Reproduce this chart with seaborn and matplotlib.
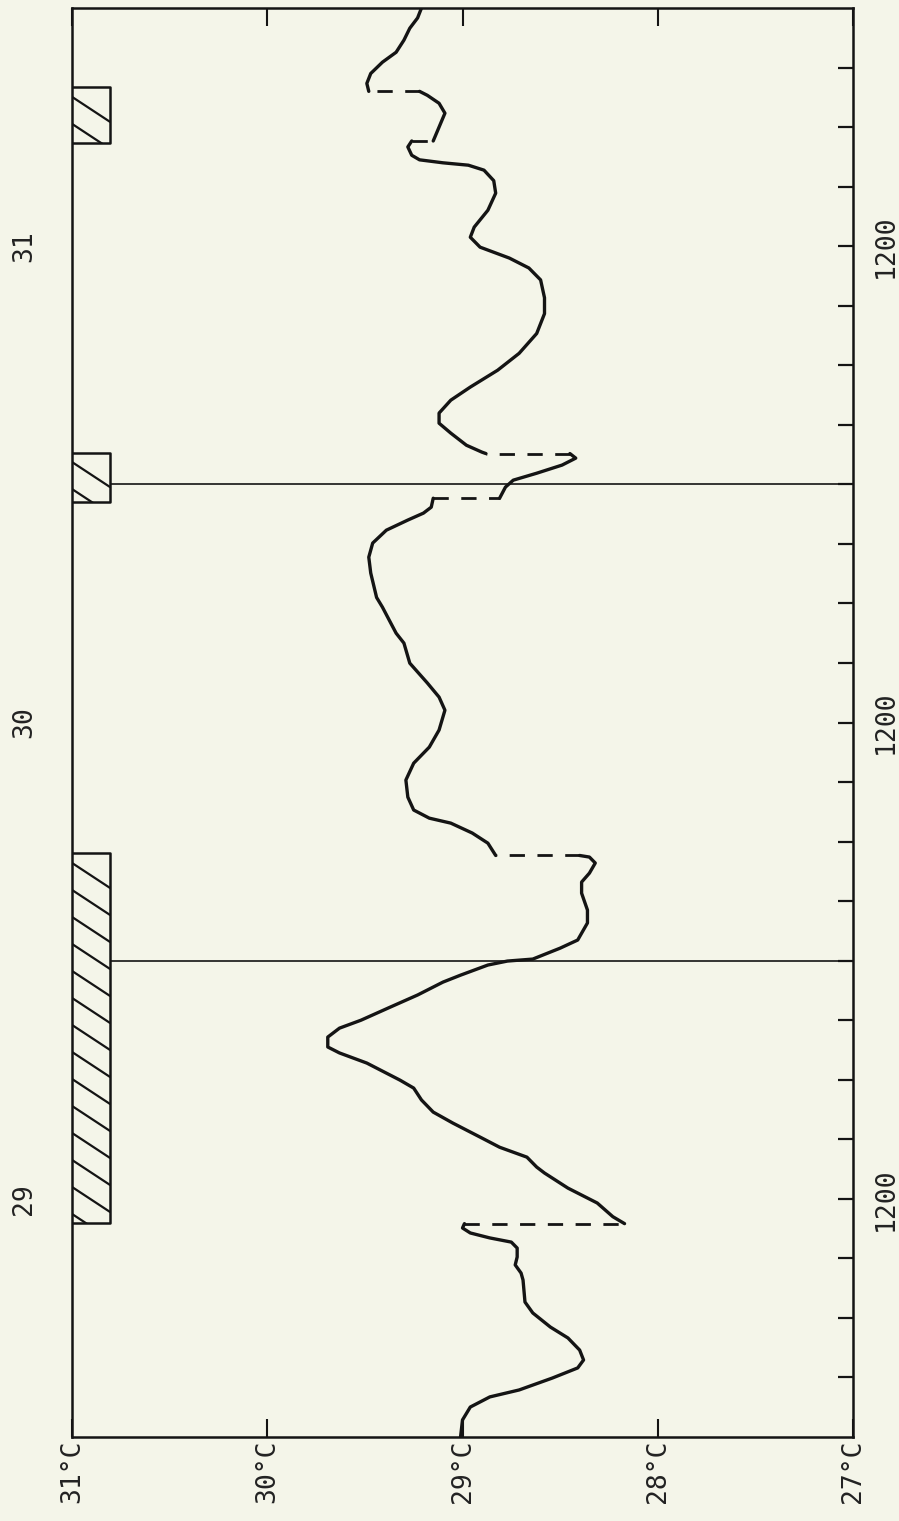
import numpy as np
import pandas as pd
import matplotlib
matplotlib.use("Agg")
import matplotlib.pyplot as plt
import matplotlib.transforms as mtransforms
from matplotlib.patches import Rectangle
import seaborn as sns

# ---------------- data ----------------
temp_ticks = [31, 30, 29, 28, 27]
temp_labels = ["31°C", "30°C", "29°C", "28°C", "27°C"]
day_labels = ["29", "30", "31"]
noon_hours = [12, 36, 60]
noon_label = "1200"
hour_ticks = list(range(3, 72, 3))
midnight_hours = [24, 48]
rain_start = [10.8, 47.1, 65.2]
rain_end = [29.4, 49.6, 68.0]

seg1_h = [0.0, 0.86, 1.51, 2.02, 2.37, 2.97, 3.48, 3.88, 4.38, 4.99, 5.54, 6.25, 6.80,
          7.91, 8.26, 8.67, 9.07, 9.52, 9.82, 10.03, 10.28, 10.53, 10.75]
seg1_t = [29.01, 29.00, 28.96, 28.86, 28.71, 28.54, 28.41, 28.38, 28.40, 28.46, 28.55, 28.64, 28.68,
          28.69, 28.70, 28.73, 28.72, 28.72, 28.75, 28.86, 28.96, 29.00, 28.99]

seg2_h = [10.75, 11.1, 11.79, 12.54, 13.30, 13.6, 14.1, 14.6, 15.06, 15.82, 16.37, 16.98, 17.58,
          17.98, 18.84, 19.35, 19.65, 20.15, 20.6, 21.0, 21.66, 22.27, 22.92, 23.27, 23.78,
          23.98, 24.08, 24.63, 25.04, 25.9, 26.55, 27.4, 27.96, 28.41, 28.92, 29.22, 29.3]
seg2_t = [28.17, 28.23, 28.31, 28.46, 28.58, 28.62, 28.67, 28.81, 28.90, 29.05, 29.15, 29.21, 29.25,
          29.32, 29.49, 29.63, 29.69, 29.69, 29.63, 29.52, 29.37, 29.23, 29.10, 29.01, 28.87,
          28.77, 28.64, 28.50, 28.41, 28.36, 28.36, 28.39, 28.39, 28.35, 28.32, 28.35, 28.40]

seg3_h = [29.3, 29.92, 30.43, 30.93, 31.18, 31.59, 32.24, 33.1, 33.95, 34.76, 35.62, 36.62, 37.28,
          37.99, 38.99, 40.0, 40.5, 41.06, 41.81, 42.3, 43.53, 44.33, 45.04, 45.69, 46.2, 46.55,
          46.85, 47.3]
seg3_t = [28.83, 28.87, 28.95, 29.06, 29.17, 29.25, 29.28, 29.29, 29.25, 29.17, 29.12, 29.09, 29.12,
          29.18, 29.27, 29.30, 29.34, 29.37, 29.41, 29.44, 29.47, 29.48, 29.46, 29.39, 29.28, 29.20,
          29.16, 29.15]

seg4_h = [47.3, 47.86, 48.21, 48.56, 48.97, 49.32, 49.55]
seg4_t = [28.81, 28.78, 28.74, 28.62, 28.49, 28.42, 28.45]

seg5_h = [49.55, 49.62, 49.97, 50.58, 51.08, 51.59, 52.24, 52.9, 53.75, 54.6, 55.6, 56.6, 57.4,
          58.3, 58.9, 59.4, 59.95, 60.45, 60.96, 61.81, 62.67, 63.3, 63.83, 64.08, 64.2, 64.35,
          64.58, 65.0, 65.3]
seg5_t = [28.88, 28.90, 28.98, 29.06, 29.12, 29.12, 29.06, 28.96, 28.82, 28.71, 28.62, 28.58, 28.58,
          28.60, 28.66, 28.76, 28.91, 28.96, 28.94, 28.87, 28.83, 28.84, 28.89, 28.97, 29.10, 29.22,
          29.26, 29.28, 29.26]

seg6_h = [65.3, 66.0, 66.7, 67.2, 67.6, 67.8]
seg6_t = [29.15, 29.12, 29.09, 29.12, 29.18, 29.22]

seg7_h = [67.8, 68.2, 68.7, 69.27, 69.77, 70.38, 70.98, 71.5, 72.0]
seg7_t = [29.48, 29.49, 29.47, 29.41, 29.34, 29.30, 29.27, 29.23, 29.21]

segments_h = [seg1_h, seg2_h, seg3_h, seg4_h, seg5_h, seg6_h, seg7_h]
segments_t = [seg1_t, seg2_t, seg3_t, seg4_t, seg5_t, seg6_t, seg7_t]

# ---------------- style ----------------
BG = "#f4f5e9"
INK = "#141414"
sns.set_style("white")
plt.rcParams["font.family"] = ["DejaVu Sans Mono", "DejaVu Sans"]

W, H, DPI = 899, 1521, 100
fig = plt.figure(figsize=(W / DPI, H / DPI), dpi=DPI, facecolor=BG)
ax_l, ax_r, ax_t, ax_b = 72, 853, 8, 1437
ax = fig.add_axes([ax_l / W, (H - ax_b) / H, (ax_r - ax_l) / W, (ax_b - ax_t) / H])
ax.set_facecolor(BG)

df = pd.concat(
    [pd.DataFrame({"temp": t, "hour": h, "seg": i}) for i, (h, t) in enumerate(zip(segments_h, segments_t))],
    ignore_index=True,
)
sns.lineplot(data=df, x="temp", y="hour", units="seg", estimator=None, sort=False,
             color=INK, lw=2.4, ax=ax, zorder=5, legend=False,
             solid_joinstyle="round", solid_capstyle="round")

# dashed connectors at the discontinuities
for i in range(len(segments_h) - 1):
    hb = segments_h[i][-1]
    ax.plot([segments_t[i][-1], segments_t[i + 1][0]], [hb, hb], color=INK, lw=2.0,
            linestyle=(0, (5.5, 4.5)), zorder=5, solid_capstyle="butt")

# midnight lines
for m in midnight_hours:
    ax.axhline(m, color=INK, lw=1.2, zorder=2)

# hatched rain boxes
blend = mtransforms.blended_transform_factory(ax.transAxes, ax.transData)
box_w = 38 / (ax_r - ax_l)
ax_h_px = ax_b - ax_t
drop = 25 / ax_h_px * 72
spacing = 27 / ax_h_px * 72
for s, e in zip(rain_start, rain_end):
    rect = Rectangle((0, s), box_w, e - s, transform=blend, facecolor=BG, edgecolor=INK,
                     lw=1.8, zorder=6, joinstyle="round")
    ax.add_patch(rect)
    clip = Rectangle((0, s), box_w, e - s, transform=blend, facecolor="none", edgecolor="none")
    ax.add_patch(clip)
    y = e - 0.35 * spacing
    while y > s - drop - spacing:
        ln, = ax.plot([0, box_w], [y, y - drop], transform=blend, color=INK, lw=1.6, zorder=6.5)
        ln.set_clip_path(clip)
        y -= spacing

ax.set_xlim(31, 27)
ax.set_ylim(0, 72)
ax.set_xlabel("")
ax.set_ylabel("")

# temperature axis ticks (bottom labelled, top unlabelled)
ax.set_xticks(temp_ticks)
ax.set_xticklabels(temp_labels, rotation=90, fontsize=19, color="#222222")
ax.tick_params(axis="x", direction="in", length=13, width=1.5, top=True, bottom=True,
               pad=2, color=INK)
# 3-hourly ticks on the right
ax.set_yticks(hour_ticks)
ax.set_yticklabels([])
ax.tick_params(axis="y", direction="in", length=11, width=1.6, left=False, right=True,
               labelleft=False, labelright=False, color=INK)

for sp in ax.spines.values():
    sp.set_visible(True)
    sp.set_color(INK)
    sp.set_linewidth(1.8)

for d, nh in zip(day_labels, noon_hours):
    ax.text(-0.0615, nh, d, transform=blend, rotation=90, ha="center", va="center",
            fontsize=19, color="#222222")
    ax.text(1.0256, nh, noon_label, transform=blend, rotation=90, ha="left", va="center",
            fontsize=19, color="#222222")

fig.savefig("out.png", dpi=DPI, facecolor=BG)
